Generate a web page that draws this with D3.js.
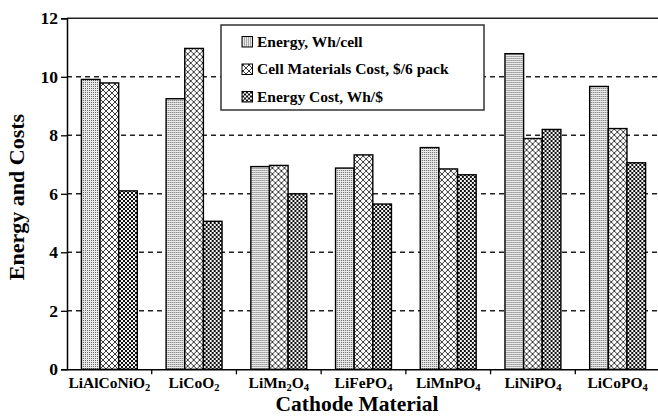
<!DOCTYPE html>
<html><head><meta charset="utf-8">
<script src="https://cdn.jsdelivr.net/npm/d3@7"></script>
<style>html,body{margin:0;padding:0;background:#fff;}svg{display:block;}
text{font-family:"Liberation Serif","Tinos","Times New Roman",serif;font-weight:bold;}</style>
</head><body>
<script>
const categories = ["LiAlCoNiO2","LiCoO2","LiMn2O4","LiFePO4","LiMnPO4","LiNiPO4","LiCoPO4"];
const seriesNames = ["Energy, Wh/cell","Cell Materials Cost, $/6 pack","Energy Cost, Wh/$"];
const energy = [9.91, 9.25, 6.93, 6.88, 7.58, 10.79, 9.67];
const materialsCost = [9.79, 10.97, 6.97, 7.33, 6.85, 7.89, 8.23];
const energyCost = [6.10, 5.06, 6.00, 5.65, 6.65, 8.20, 7.06];
const yTicks = [0,2,4,6,8,10,12];
const seriesValues = [energy, materialsCost, energyCost];

const W = 658, H = 416;
const svg = d3.select("body").append("svg").attr("width", W).attr("height", H);
const defs = svg.append("defs");

// patterns
const p0 = defs.append("pattern").attr("id","pat0").attr("patternUnits","userSpaceOnUse").attr("width",2).attr("height",2);
p0.append("rect").attr("width",2).attr("height",2).attr("fill","#eaeaea");
p0.append("rect").attr("width",1).attr("height",1).attr("fill","#666");
const p1 = defs.append("pattern").attr("id","pat1").attr("patternUnits","userSpaceOnUse").attr("width",6).attr("height",6);
p1.append("rect").attr("width",6).attr("height",6).attr("fill","#fff");
p1.append("path").attr("d","M0,0L6,6M6,0L0,6M-1,5L1,7M5,-1L7,1M-1,1L1,-1M5,7L7,5").attr("stroke","#3a3a3a").attr("stroke-width",1);
const p2 = defs.append("pattern").attr("id","pat2").attr("patternUnits","userSpaceOnUse").attr("width",4).attr("height",4);
p2.append("rect").attr("width",4).attr("height",4).attr("fill","#f4f4f4");
p2.append("rect").attr("width",2).attr("height",2).attr("fill","#111");
p2.append("rect").attr("x",2).attr("y",2).attr("width",2).attr("height",2).attr("fill","#111");
const fills = ["url(#pat0)","url(#pat1)","url(#pat2)"];

const x0 = 67, x1End = 660, yTop = 18.3, yBot = 369.3;
const x = d3.scaleBand().domain(categories).range([x0, x1End]).paddingInner(0).paddingOuter(0);
const xs = d3.scaleBand().domain(d3.range(3)).range([x.bandwidth()*0.17, x.bandwidth()*0.83]).padding(0);
const y = d3.scaleLinear().domain([0,12]).range([yBot, yTop]);

// gridlines
svg.append("g").selectAll("line").data(yTicks.filter(d => d>0 && d<12)).join("line")
  .attr("x1", x0).attr("x2", W).attr("y1", d=>y(d)).attr("y2", d=>y(d))
  .attr("stroke","#222").attr("stroke-width",1.4).attr("stroke-dasharray","5,4");

// top frame line
svg.append("line").attr("x1",x0).attr("x2",W).attr("y1",y(12)).attr("y2",y(12)).attr("stroke","#222").attr("stroke-width",1.5);

// bars
const groups = svg.append("g").selectAll("g").data(categories).join("g")
  .attr("transform", d => `translate(${x(d)},0)`);
groups.selectAll("rect").data((c,i) => seriesValues.map((s,k) => ({k, v:s[i]}))).join("rect")
  .attr("x", d => xs(d.k)).attr("width", xs.bandwidth())
  .attr("y", d => y(d.v)).attr("height", d => y(0)-y(d.v))
  .attr("fill", d => fills[d.k]).attr("stroke","#000").attr("stroke-width",1.4);

// y axis
const yAxis = svg.append("g").attr("transform",`translate(${x0},0)`)
  .call(d3.axisLeft(y).tickValues(yTicks).tickSize(6).tickPadding(3).tickFormat(d3.format("d")));
yAxis.attr("font-family",null).attr("font-size",null);
yAxis.select(".domain").attr("stroke","#000").attr("stroke-width",1.5);
yAxis.selectAll(".tick line").attr("stroke","#000").attr("stroke-width",1.3);
yAxis.selectAll("text").attr("font-size",17.5).attr("fill","#000");

// x axis
const xAxis = svg.append("g").attr("transform",`translate(0,${yBot})`)
  .call(d3.axisBottom(x).tickSize(0).tickFormat(""));
xAxis.select(".domain").attr("stroke","#000").attr("stroke-width",1.5);
xAxis.selectAll(".tick line").remove();
svg.append("g").selectAll("line").data(categories.slice(1)).join("line")
  .attr("x1", d=>x(d)).attr("x2", d=>x(d)).attr("y1", yBot).attr("y2", yBot+5)
  .attr("stroke","#000").attr("stroke-width",1.3);

// category labels with subscripts
const lab = svg.append("g").selectAll("text").data(categories).join("text")
  .attr("x", d => x(d)+x.bandwidth()/2).attr("y", 388)
  .attr("text-anchor","middle").attr("font-size",15.5).attr("fill","#000");
lab.each(function(d){
  const t = d3.select(this);
  const parts = d.match(/[A-Za-z]+|\d+/g);
  let sub = false;
  parts.forEach(p => {
    const isNum = /\d/.test(p);
    const ts = t.append("tspan").text(p);
    if (isNum && !sub) { ts.attr("dy", 3).attr("font-size", 10.5); sub = true; }
    else if (!isNum && sub) { ts.attr("dy", -3); sub = false; }
    else if (isNum) ts.attr("font-size",10.5);
  });
});

// axis titles
svg.append("text").attr("x",357).attr("y",411).attr("text-anchor","middle")
  .attr("font-size",21.5).attr("fill","#000").text("Cathode Material");
svg.append("text").attr("transform","translate(24,197) rotate(-90)").attr("text-anchor","middle")
  .attr("font-size",22).attr("fill","#000").text("Energy and Costs");

// legend
const lg = svg.append("g");
lg.append("rect").attr("x",221).attr("y",25).attr("width",263).attr("height",85)
  .attr("fill","#fff").attr("stroke","#333").attr("stroke-width",1.5);
const rows = lg.selectAll("g").data(seriesNames).join("g")
  .attr("transform",(d,i)=>`translate(0,${46.5 + i*27.5})`);
rows.append("rect").attr("x",242).attr("y",-10).attr("width",10.5).attr("height",10.5)
  .attr("fill",(d,i)=>fills[i]).attr("stroke","#000").attr("stroke-width",1);
rows.append("text").attr("x",257).attr("y",0)
  .attr("font-size",15.5).attr("fill","#000").text(d=>d);
</script>
</body></html>
